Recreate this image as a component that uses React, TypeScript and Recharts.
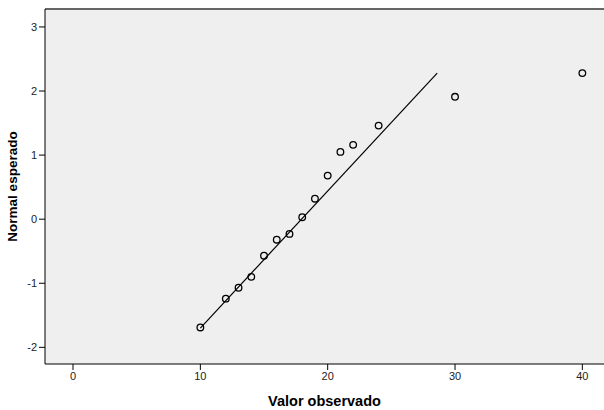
import React from 'react';
import { ScatterChart, Scatter, XAxis, YAxis, ReferenceArea, ReferenceLine, Label } from 'recharts';

const observed = [10, 12, 13, 14, 15, 16, 17, 18, 19, 20, 21, 22, 24, 30, 40];
const expected = [-1.69, -1.24, -1.07, -0.9, -0.57, -0.32, -0.23, 0.03, 0.32, 0.68, 1.05, 1.16, 1.46, 1.91, 2.28];
const lineX = [10, 28.6];
const lineY = [-1.7, 2.28];
const xTicks = [0, 10, 20, 30, 40];
const yTicks = [-2, -1, 0, 1, 2, 3];

const points = observed.map((x, i) => ({ x, y: expected[i] }));
const lineData = lineX.map((x, i) => ({ x, y: lineY[i] }));

const X_DOMAIN: [number, number] = [-2.2, 41.7];
const Y_DOMAIN: [number, number] = [-2.26, 3.28];

const Circle = (props: any) => {
  const { cx, cy } = props;
  if (cx == null || cy == null) return null;
  return <circle cx={cx} cy={cy} r={3.3} fill="none" stroke="#000" strokeWidth={1.3} />;
};

export default function App() {
  return (
    <div style={{ position: 'absolute', left: 0, top: 0, background: '#fff' }}>
      <ScatterChart width={604} height={410} margin={{ top: 9, right: 0, left: 0, bottom: 0 }}>
        <ReferenceArea
          x1={X_DOMAIN[0]}
          x2={X_DOMAIN[1]}
          y1={Y_DOMAIN[0]}
          y2={Y_DOMAIN[1]}
          fill="#efefef"
          fillOpacity={1}
          stroke="none"
          ifOverflow="hidden"
        />
        <ReferenceLine y={Y_DOMAIN[1]} stroke="#666" strokeWidth={2} />
        <XAxis
          type="number"
          dataKey="x"
          domain={X_DOMAIN}
          ticks={xTicks}
          allowDataOverflow
          height={46}
          stroke="#000"
          tickSize={6}
          tick={{ fill: '#222', fontSize: 11, fontFamily: 'Liberation Sans, Arial, sans-serif' }}
        >
          <Label
            value="Valor observado"
            position="insideBottom"
            offset={4}
            style={{ fill: '#000', fontSize: 14.5, fontWeight: 'bold', fontFamily: 'Liberation Sans, Arial, sans-serif' }}
          />
        </XAxis>
        <YAxis
          type="number"
          dataKey="y"
          domain={Y_DOMAIN}
          ticks={yTicks}
          allowDataOverflow
          width={45}
          stroke="#000"
          tickSize={6}
          tick={{ fill: '#222', fontSize: 11, fontFamily: 'Liberation Sans, Arial, sans-serif' }}
        >
          <Label
            value="Normal esperado"
            angle={-90}
            position="insideLeft"
            offset={12}
            style={{ textAnchor: 'middle', fill: '#000', fontSize: 13.5, fontWeight: 'bold', fontFamily: 'Liberation Sans, Arial, sans-serif' }}
          />
        </YAxis>
        <Scatter data={lineData} line={{ stroke: '#000', strokeWidth: 1.2 }} shape={() => null} isAnimationActive={false} />
        <Scatter data={points} shape={<Circle />} isAnimationActive={false} />
      </ScatterChart>
    </div>
  );
}
